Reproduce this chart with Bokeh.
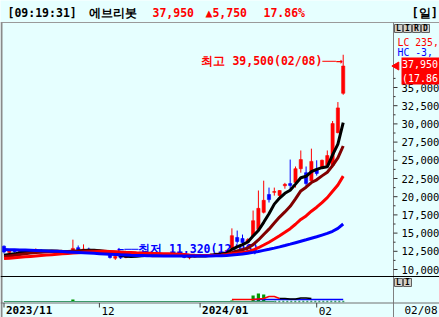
import math
from bokeh.plotting import figure
from bokeh.models import Range1d, ColumnDataSource
from bokeh.core.properties import value
from bokeh.embed import file_html
from bokeh.resources import INLINE

# ---------------- data ----------------
dates = ["11/07", "11/08", "11/09", "11/10", "11/13", "11/14", "11/15", "11/16", "11/17",
         "11/20", "11/21", "11/22", "11/23", "11/24", "11/27", "11/28", "11/29", "11/30",
         "12/01", "12/04", "12/05", "12/06", "12/07", "12/08", "12/11", "12/12", "12/13",
         "12/14", "12/15", "12/18", "12/19", "12/20", "12/21", "12/22", "12/26", "12/27", "12/28",
         "01/02", "01/03", "01/04", "01/05", "01/08", "01/09", "01/10", "01/11", "01/12",
         "01/15", "01/16", "01/17", "01/18", "01/19", "01/22", "01/23", "01/24", "01/25",
         "01/26", "01/29", "01/30", "01/31",
         "02/01", "02/02", "02/05", "02/06", "02/07", "02/08"]

opens = [13200, 12350, 12600, 12450, 12550, 12400, 12450, 12650, 12500, 12550, 12400, 12450, 12350,
         12400, 13000, 12550, 12800, 12600, 12400, 12550, 12100, 11550, 11900, 11650, 11900, 12000,
         11850, 12050, 11950, 12100, 12000, 11950, 12050, 11900, 12000, 11600, 11700, 11950, 12050,
         11950, 12100, 12200, 12300, 12900, 14400, 14250, 13750, 14600, 15500, 17850, 20300, 20600,
         20150, 21500, 21800, 21950, 23850, 23300, 22200, 23700, 24000, 24300, 24300, 28800, 34200]
highs = [13300, 12800, 12750, 12700, 12650, 12700, 12900, 12750, 12650, 12600, 12550, 12600, 12500,
         14100, 13300, 13450, 13000, 12750, 12700, 12600, 12200, 12000, 12050, 12000, 12150, 12100,
         12150, 12100, 12200, 12150, 12050, 12150, 12100, 12100, 12050, 11800, 12000, 12150, 12100,
         12200, 12300, 12400, 12700, 15650, 15350, 14800, 14300, 18100, 20850, 22200, 21250, 21250,
         20900, 21900, 25100, 24150, 26350, 24150, 26600, 25000, 25100, 26350, 30400, 33000, 39500]
lows = [12200, 12250, 12300, 12300, 12300, 12300, 12400, 12400, 12350, 12300, 12250, 12300, 12200,
        12300, 12400, 12450, 12500, 12300, 12200, 12000, 11500, 11320, 11450, 11550, 11800, 11750,
        11800, 11850, 11900, 11900, 11850, 11900, 11850, 11850, 11550, 11400, 11650, 11900, 11850,
        11900, 12000, 12100, 12250, 12800, 13550, 13300, 13600, 14500, 15200, 17700, 19200, 20150,
        19900, 21100, 20850, 21250, 23300, 21250, 21950, 22900, 23900, 24000, 24000, 28700, 34000]
closes = [12400, 12600, 12450, 12550, 12400, 12600, 12650, 12500, 12550, 12400, 12450, 12350, 12400,
          12900, 12550, 12800, 12600, 12400, 12550, 12100, 11650, 11800, 11600, 11900, 12000, 11850,
          12050, 11950, 12100, 12000, 11950, 12050, 11900, 12000, 11650, 11700, 11950, 12050, 11950,
          12100, 12200, 12300, 12600, 14650, 13850, 13700, 14100, 16700, 18400, 19500, 19600, 20700,
          20850, 21700, 21550, 23850, 25100, 21800, 24850, 23200, 25000, 25650, 30050, 32200, 37950]

ma5 = [11950, 12050, 12150, 12300, 12450, 12520, 12530, 12540, 12540, 12540, 12510, 12450, 12430,
       12500, 12530, 12600, 12650, 12650, 12580, 12490, 12260, 12120, 11940, 11810, 11790, 11830,
       11880, 11950, 11990, 11990, 12010, 12010, 12000, 11980, 11910, 11860, 11840, 11870, 11860,
       11950, 12050, 12120, 12230, 12770, 13120, 13420, 13780, 14600, 15350, 16480, 17660, 18980,
       19810, 20470, 20880, 21730, 22610, 22800, 23430, 23760, 23990, 24100, 25750, 27220, 30170]
ma10 = [11750, 11850, 11950, 12050, 12150, 12250, 12320, 12380, 12430, 12510, 12515, 12490, 12485,
        12520, 12535, 12555, 12550, 12540, 12540, 12510, 12430, 12375, 12295, 12195, 12140, 12045,
        11990, 11945, 11900, 11890, 11920, 11945, 11975, 11985, 11950, 11935, 11925, 11935, 11920,
        11930, 11955, 11980, 12050, 12315, 12535, 12735, 12950, 13415, 14060, 14800, 15540, 16380,
        17205, 17910, 18680, 19695, 20795, 21305, 21950, 22320, 22860, 23355, 24275, 25325, 26965]
ma20 = [11500, 11560, 11620, 11680, 11740, 11800, 11860, 11920, 11980, 12040, 12100, 12150, 12200,
        12260, 12310, 12360, 12400, 12440, 12480, 12510, 12473, 12433, 12390, 12358, 12338, 12300,
        12270, 12243, 12220, 12200, 12175, 12160, 12135, 12090, 12045, 11990, 11958, 11940, 11910,
        11910, 11938, 11963, 12013, 12150, 12243, 12335, 12438, 12675, 12990, 13365, 13748, 14180,
        14628, 15113, 15608, 16215, 16873, 17360, 18005, 18560, 19200, 19868, 20740, 21618, 22823]
ma60 = [12750, 12730, 12710, 12690, 12670, 12640, 12610, 12580, 12550, 12520, 12490, 12460, 12420,
        12380, 12340, 12300, 12260, 12220, 12180, 12140, 12100, 12060, 12020, 11990, 11960, 11940,
        11920, 11900, 11890, 11880, 11870, 11860, 11850, 11850, 11840, 11840, 11840, 11840, 11850,
        11860, 11880, 11900, 11930, 11980, 12050, 12130, 12230, 12350, 12480, 12630, 12780, 12940,
        13110, 13290, 13480, 13680, 13880, 14080, 14290, 14500, 14730, 14960, 15250, 15650, 16250]

# volume panel (thousand shares, on the panel's compressed scale)
volume = [0, 0, 0, 0, 0, 0, 0, 0, 0, 0, 0, 0, 0, 200, 0, 0, 0, 0, 0, 0, 0, 0, 0, 0, 0, 0,
          0, 0, 0, 0, 0, 0, 0, 0, 0, 0, 0, 0, 0, 0, 0, 0, 0, 100, 0, 0, 0, 600, 800, 700, 0, 0,
          0, 0, 0, 0, 0, 0, 0, 0, 0, 0, 0, 0, 0]
vol_ma_red_x = [43, 44, 45, 46, 47, 48, 49, 50, 51, 52]
vol_ma_red = [200, 200, 200, 200, 200, 250, 300, 500, 500, 300]
vol_ma_black_x = [52, 53, 54, 55, 56, 57, 58]
vol_ma_black = [300, 300, 250, 250, 350, 350, 300]
vol_ma_blue_x = [47, 50, 53, 56, 59, 62, 64]
vol_ma_blue = [200, 200, 200, 200, 200, 200, 200]

quote_time = "09:19:31"
stock_name = "에브리봇"
period_label = "일"
lc_text = "LC 235,"
hc_text = "HC  -3,"
price_ticks = [10000, 12500, 15000, 17500, 20000, 22500, 25000, 27500, 30000, 32500, 35000]
price_minor = [11250, 13750, 16250, 18750, 21250, 23750, 26250, 28750, 31250, 33750, 36250]
month_labels = ["2023/11", "12", "2024/01", "02"]

# ---------------- geometry / style ----------------
W, H = 439, 317
BG = "#E6FFFF"
RED, BLUE, MAROON = "#FF0000", "#0000FF", "#800000"
MONO = "DejaVu Sans Mono"
X0_PX, STEP_PX = 3.5, 5.3
Y10K_PX, Y35K_PX = 269.0, 87.0
ppp = (35000 - 10000) / (Y10K_PX - Y35K_PX)
VOL_BASE_PX, VOL_PER_PX = 301.0, 100.0
AXIS_X = 393

n = len(closes)
idx = list(range(n))

p = figure(width=W, height=H, title=None, toolbar_location=None, output_backend="svg",
           x_range=Range1d(-X0_PX / STEP_PX, (W - X0_PX) / STEP_PX),
           y_range=Range1d(10000 - (H - Y10K_PX) * ppp, 10000 + Y10K_PX * ppp),
           x_axis_type=None, y_axis_type=None,
           min_border=0, min_border_left=0, min_border_right=0, min_border_top=0, min_border_bottom=0,
           background_fill_color=BG, border_fill_color=BG, outline_line_color=None)
p.grid.visible = False
p.extra_x_ranges = {"sx": Range1d(0, W)}
p.extra_y_ranges = {"sy": Range1d(H, 0),
                    "vol": Range1d(-(H - VOL_BASE_PX) * VOL_PER_PX, VOL_BASE_PX * VOL_PER_PX)}


def ptext(x, y, s, color="black", size="11px", bold=False, align="left", font=MONO):
    p.text(x=[x], y=[y], text=[s], x_range_name="sx", y_range_name="sy",
           text_color=color, text_font=value(font), text_font_size=size,
           text_font_style="bold" if bold else "normal", text_align=align, text_baseline="middle")


def pline(x0, y0, x1, y1, color, width=1, dash="solid"):
    p.segment(x0=[x0], y0=[y0], x1=[x1], y1=[y1], x_range_name="sx", y_range_name="sy",
              line_color=color, line_width=width, line_dash=dash)


# ---------------- frame decorations ----------------
pline(0, 22, W, 22, "#9A9A9A")
pline(1, 22, 1, H, "#8A8A8A", 2)
pline(AXIS_X, 22, AXIS_X, H, "#808080")
pline(0, 276, W, 276, "#000000")
pline(0, 302.5, W, 302.5, "#707070")

# ---------------- header ----------------
last, prev = closes[-1], closes[-2]
chg = last - prev
pct = chg / prev * 100
ptext(7, 12, f"[{quote_time}]", bold=True, size="11.5px")
ptext(88, 12, stock_name, bold=True, size="12px")
ptext(152, 12, f"{last:,}", color=RED, bold=True, size="11.5px")
ptext(205, 12, f"\u25b2{chg:,}", color=RED, bold=True, size="11.5px")
ptext(263, 12, f"{pct:.2f}%", color=RED, bold=True, size="11.5px")
ptext(411, 12, f"[{period_label}]", bold=True, size="12px")

# ---------------- candles ----------------
src = ColumnDataSource(dict(
    x=idx, h=highs, l=lows,
    top=[max(o, c) for o, c in zip(opens, closes)],
    bottom=[min(o, c) for o, c in zip(opens, closes)],
    color=[RED if c >= o else BLUE for o, c in zip(opens, closes)]))
p.segment(x0="x", y0="h", x1="x", y1="l", line_color="color", line_width=1, source=src)
p.vbar(x="x", top="top", bottom="bottom", width=0.6, fill_color="color", line_color="color",
       line_width=0.6, source=src)

# low annotation (under the MA lines)
lo = min(idx, key=lambda i: lows[i])
p.text(x=[lo], y=[lows[lo]], text=[f"\u2190\u2500\u2500최저 {lows[lo]:,}({dates[lo]})"], x_offset=2, y_offset=-11,
       text_color=BLUE, text_font=value(MONO), text_font_size="11.5px", text_font_style="bold",
       text_align="left", text_baseline="middle")

# moving averages
for vals, col in [(ma5, "#000000"), (ma10, MAROON), (ma20, RED), (ma60, BLUE)]:
    p.line(idx, vals, line_color=col, line_width=3)

# high annotation
hi = max(idx, key=lambda i: highs[i])
p.text(x=[hi], y=[highs[hi]], text=[f"최고 {highs[hi]:,}({dates[hi]})\u2500\u2500\u2192"], x_offset=0, y_offset=6,
       text_color=RED, text_font=value(MONO), text_font_size="11.5px", text_font_style="bold",
       text_align="right", text_baseline="middle")

# ---------------- right price axis ----------------
p.segment(x0=[AXIS_X] * len(price_ticks), x1=[AXIS_X + 4] * len(price_ticks), y0=price_ticks, y1=price_ticks,
          x_range_name="sx", line_color="#333333")
p.segment(x0=[AXIS_X] * len(price_minor), x1=[AXIS_X + 2] * len(price_minor), y0=price_minor, y1=price_minor,
          x_range_name="sx", line_color="#333333")
p.text(x=[401] * len(price_ticks), y=price_ticks, text=[f"{t:,}" for t in price_ticks], x_range_name="sx",
       text_color="black", text_font=value(MONO), text_font_size="10.5px", text_align="left",
       text_baseline="middle")

# LIRD buttons
for k, ch in enumerate("LIRD"):
    p.quad(left=[394 + 9 * k], right=[402 + 9 * k], top=[24], bottom=[32], x_range_name="sx", y_range_name="sy",
           fill_color="#D4D0C8", line_color="#606060")
    ptext(398 + 9 * k, 28.2, ch, bold=True, size="8px", align="center")
for k, ch in enumerate("LI"):
    p.quad(left=[394 + 9 * k], right=[402 + 9 * k], top=[278], bottom=[286], x_range_name="sx", y_range_name="sy",
           fill_color="#D4D0C8", line_color="#606060")
    ptext(398 + 9 * k, 282.2, ch, bold=True, size="8px", align="center")

ptext(397, 41.5, lc_text, color=RED, size="9.8px")
ptext(397, 52, hc_text, color=BLUE, size="9.8px")

# current price box
p.quad(left=[401], right=[W + 2], top=[57], bottom=[84], x_range_name="sx", y_range_name="sy",
       fill_color=RED, line_color=None)
p.scatter(x=[396], y=[last], marker="triangle", angle=math.pi / 2, size=8, x_range_name="sx",
          fill_color=RED, line_color=RED)
p.text(x=[401.5, 401.5], y=[last, last], text=[f"{last:,}", f"({pct:.2f}"], x_offset=0, y_offset=[-2, 12],
       x_range_name="sx", text_color="white", text_font=value(MONO), text_font_size="10px",
       text_align="left", text_baseline="middle")

# ---------------- volume panel ----------------
p.vbar(x=idx, top=volume, bottom=0, width=0.6, y_range_name="vol", fill_color="#009900", line_color=None)
p.segment(x0=[0], x1=[51], y0=[0], y1=[0], y_range_name="vol", line_color="#3C9A6A", line_width=1)
p.segment(x0=[51], x1=[n - 1 + 0.5], y0=[0], y1=[0], y_range_name="vol", line_color="#3C9A6A",
          line_width=1.5, line_dash="2 2")
p.line(vol_ma_blue_x, vol_ma_blue, y_range_name="vol", line_color=BLUE, line_width=1.5)
p.line(vol_ma_red_x, vol_ma_red, y_range_name="vol", line_color=RED, line_width=1.5)
p.line(vol_ma_black_x, vol_ma_black, y_range_name="vol", line_color="#000000", line_width=1.5)

# ---------------- date axis ----------------
month_starts = [i for i in idx if i == 0 or dates[i][:2] != dates[i - 1][:2]]
p.segment(x0=month_starts, x1=month_starts, y0=[302.5] * len(month_starts), y1=[307] * len(month_starts),
          y_range_name="sy", line_color="#404040")
for i, lab in zip(month_starts, month_labels):
    p.text(x=[i], y=[310], text=[lab], x_offset=2, y_range_name="sy", text_color="black",
           text_font=value(MONO), text_font_size="11px",
           text_font_style="bold" if "/" in lab else "normal",
           text_align="left", text_baseline="middle")
ptext(404, 310, dates[-1], size="11px")

open("out.html", "w").write(file_html(p, INLINE))
